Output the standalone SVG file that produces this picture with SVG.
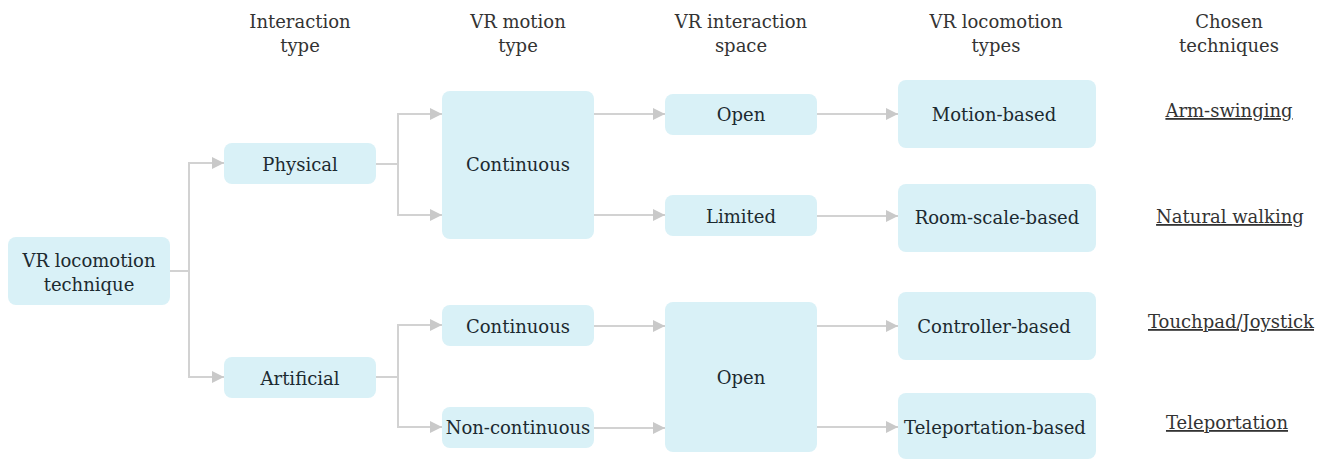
<svg xmlns="http://www.w3.org/2000/svg" width="1333" height="459" viewBox="0 0 1333 459">
  <defs>
    <style>
      .box { fill: #d9f1f7; }
      .lbl { font-family: "DejaVu Serif", "Liberation Serif", serif; font-size: 18px; fill: #1c2a30; text-anchor: middle; }
      .hdr { font-family: "DejaVu Serif", "Liberation Serif", serif; font-size: 18px; fill: #333333; text-anchor: middle; }
      .tech { font-family: "DejaVu Serif", "Liberation Serif", serif; font-size: 18px; fill: #333333; text-anchor: middle; text-decoration: underline; }
      .wire { fill: none; stroke: #d2d2d2; stroke-width: 2; }
    </style>
    <marker id="arrow" viewBox="0 0 12 12" refX="12" refY="6" markerWidth="12" markerHeight="12" markerUnits="userSpaceOnUse" orient="auto">
      <path d="M0,0 L12,6 L0,12 Z" fill="#c9c9c9"/>
    </marker>
  </defs>

  <rect width="1333" height="459" fill="#ffffff"/>

  <!-- column headers -->
  <g id="headers">
    <text class="hdr" x="300" y="28">Interaction</text>
    <text class="hdr" x="300" y="52">type</text>
    <text class="hdr" x="518" y="28">VR motion</text>
    <text class="hdr" x="518" y="52">type</text>
    <text class="hdr" x="741" y="28">VR interaction</text>
    <text class="hdr" x="741" y="52">space</text>
    <text class="hdr" x="996" y="28">VR locomotion</text>
    <text class="hdr" x="996" y="52">types</text>
    <text class="hdr" x="1229" y="28">Chosen</text>
    <text class="hdr" x="1229" y="52">techniques</text>
  </g>

  <!-- connectors -->
  <g id="connectors">
    <path class="wire" d="M170,271 H189 V163 H224" marker-end="url(#arrow)"/>
    <path class="wire" d="M189,271 V377 H224" marker-end="url(#arrow)"/>
    <path class="wire" d="M376,164 H398 V114 H442" marker-end="url(#arrow)"/>
    <path class="wire" d="M398,164 V215 H442" marker-end="url(#arrow)"/>
    <path class="wire" d="M376,377 H398 V325 H442" marker-end="url(#arrow)"/>
    <path class="wire" d="M398,377 V427 H442" marker-end="url(#arrow)"/>
    <path class="wire" d="M594,114 H665" marker-end="url(#arrow)"/>
    <path class="wire" d="M594,215 H665" marker-end="url(#arrow)"/>
    <path class="wire" d="M594,326 H665" marker-end="url(#arrow)"/>
    <path class="wire" d="M594,428 H665" marker-end="url(#arrow)"/>
    <path class="wire" d="M817,114 H898" marker-end="url(#arrow)"/>
    <path class="wire" d="M817,216 H898" marker-end="url(#arrow)"/>
    <path class="wire" d="M817,326 H898" marker-end="url(#arrow)"/>
    <path class="wire" d="M817,427 H898" marker-end="url(#arrow)"/>
  </g>

  <!-- nodes -->
  <g id="root">
    <rect class="box" x="8" y="237" width="162" height="68" rx="8"/>
    <text class="lbl" x="89" y="267">VR locomotion</text>
    <text class="lbl" x="89" y="291">technique</text>
  </g>
  <g id="physical">
    <rect class="box" x="224" y="143" width="152" height="41" rx="8"/>
    <text class="lbl" x="300" y="171">Physical</text>
  </g>
  <g id="artificial">
    <rect class="box" x="224" y="357" width="152" height="41" rx="8"/>
    <text class="lbl" x="300" y="385">Artificial</text>
  </g>
  <g id="continuous-physical">
    <rect class="box" x="442" y="91" width="152" height="148" rx="8"/>
    <text class="lbl" x="518" y="171">Continuous</text>
  </g>
  <g id="continuous-artificial">
    <rect class="box" x="442" y="305" width="152" height="41" rx="8"/>
    <text class="lbl" x="518" y="333">Continuous</text>
  </g>
  <g id="non-continuous">
    <rect class="box" x="442" y="407" width="152" height="41" rx="8"/>
    <text class="lbl" x="518" y="434">Non-continuous</text>
  </g>
  <g id="open-physical">
    <rect class="box" x="665" y="94" width="152" height="41" rx="8"/>
    <text class="lbl" x="741" y="121">Open</text>
  </g>
  <g id="limited">
    <rect class="box" x="665" y="195" width="152" height="41" rx="8"/>
    <text class="lbl" x="741" y="223">Limited</text>
  </g>
  <g id="open-artificial">
    <rect class="box" x="665" y="302" width="152" height="150" rx="8"/>
    <text class="lbl" x="741" y="384">Open</text>
  </g>
  <g id="motion-based">
    <rect class="box" x="898" y="80" width="198" height="68" rx="8"/>
    <text class="lbl" x="994" y="121">Motion-based</text>
  </g>
  <g id="room-scale-based">
    <rect class="box" x="898" y="184" width="198" height="68" rx="8"/>
    <text class="lbl" x="997" y="224">Room-scale-based</text>
  </g>
  <g id="controller-based">
    <rect class="box" x="898" y="292" width="198" height="68" rx="8"/>
    <text class="lbl" x="994" y="333">Controller-based</text>
  </g>
  <g id="teleportation-based">
    <rect class="box" x="898" y="393" width="198" height="66" rx="8"/>
    <text class="lbl" x="995" y="434">Teleportation-based</text>
  </g>

  <!-- chosen techniques -->
  <g id="techniques">
    <text class="tech" x="1229" y="117">Arm-swinging</text>
    <text class="tech" x="1230" y="223">Natural walking</text>
    <text class="tech" x="1231" y="328">Touchpad/Joystick</text>
    <text class="tech" x="1227" y="429">Teleportation</text>
  </g>
</svg>
